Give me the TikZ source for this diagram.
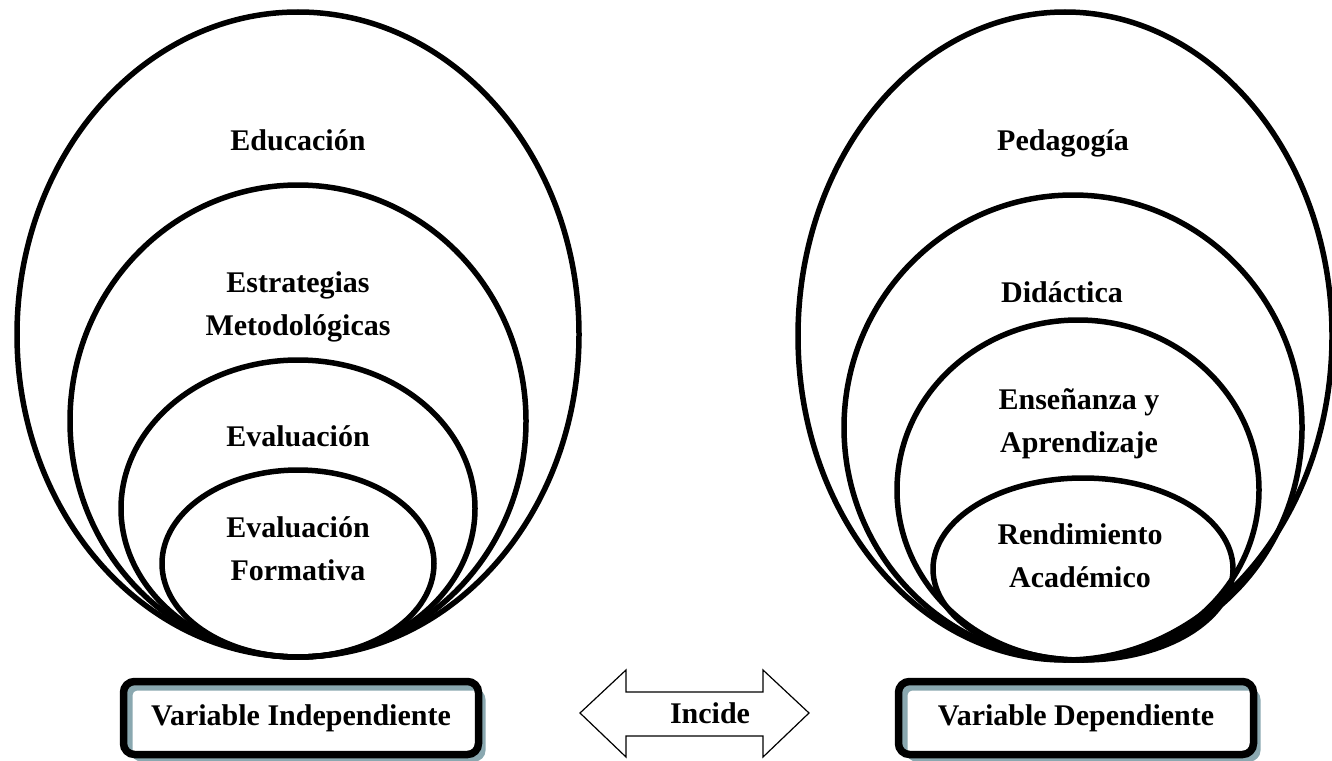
\documentclass[tikz,border=0pt]{standalone}
\usepackage{fontspec}
\setmainfont{Liberation Serif}
\usetikzlibrary{shadows}
\definecolor{shadowgrey}{RGB}{138,168,176}

\begin{document}
\begin{tikzpicture}[x=1pt,y=-1pt,
  ring/.style={line width=5.5pt},
  lbl/.style={anchor=base,inner sep=0pt,align=center,font=\fontsize{30}{43}\selectfont\bfseries},
  varbox/.style={draw,line width=7.5pt,rounded corners=11pt,fill=shadowgrey,
    minimum width=355pt,minimum height=73pt,inner sep=0pt,
    font=\fontsize{30}{34}\selectfont\bfseries,
    drop shadow={shadow xshift=7pt,shadow yshift=-7pt,fill=shadowgrey,opacity=1},
    path picture={\fill[white,rounded corners=5pt] ([shift={(9pt,-9pt)}]path picture bounding box.north west) rectangle (path picture bounding box.south east);}}]
\path[use as bounding box] (0,0) rectangle (1332,760);
% variable independiente
\draw[ring] (298,334.5) ellipse [x radius=281pt, y radius=322.5pt];
\draw[ring] (298,421) ellipse [x radius=228pt, y radius=236pt];
\draw[ring] (298,508.5) ellipse [x radius=177pt, y radius=148.5pt];
\draw[ring] (298,563.5) ellipse [x radius=136pt, y radius=93.5pt];
\node[lbl] (educacion) at (298,150) {Educación};
\node[lbl] (estrategias) at (298,335) {Estrategias\\Metodológicas};
\node[lbl] (evaluacion) at (298,446) {Evaluación};
\node[lbl] (formativa) at (298,580) {Evaluación\\Formativa};
% variable dependiente
\draw[ring] (1065,336) ellipse [x radius=267pt, y radius=324pt];
\draw[ring] (1073,427.5) ellipse [x radius=229pt, y radius=232.5pt];
\draw[ring] (1078,490) ellipse [x radius=181pt, y radius=170pt];
\draw[ring] (1083,569) ellipse [x radius=150pt, y radius=91pt];
\node[lbl] (pedagogia) at (1063,150) {Pedagogía};
\node[lbl] (didactica) at (1062,302) {Didáctica};
\node[lbl] (ensenanza) at (1079,452) {Enseñanza y\\Aprendizaje};
\node[lbl] (rendimiento) at (1080,587) {Rendimiento\\Académico};
% cajas
\node[varbox] (indep) at (301,718) {Variable Independiente};
\node[varbox] (dep) at (1076,718) {Variable Dependiente};
\draw[line width=1.2pt,fill=white] (580,713) -- (626,670) -- (626,692) -- (763,692) -- (763,670) -- (809,713) -- (763,757) -- (763,736) -- (626,736) -- (626,757) -- cycle;
\node[lbl,anchor=center] (incide) at (710,713) {Incide};
\end{tikzpicture}
\end{document}
